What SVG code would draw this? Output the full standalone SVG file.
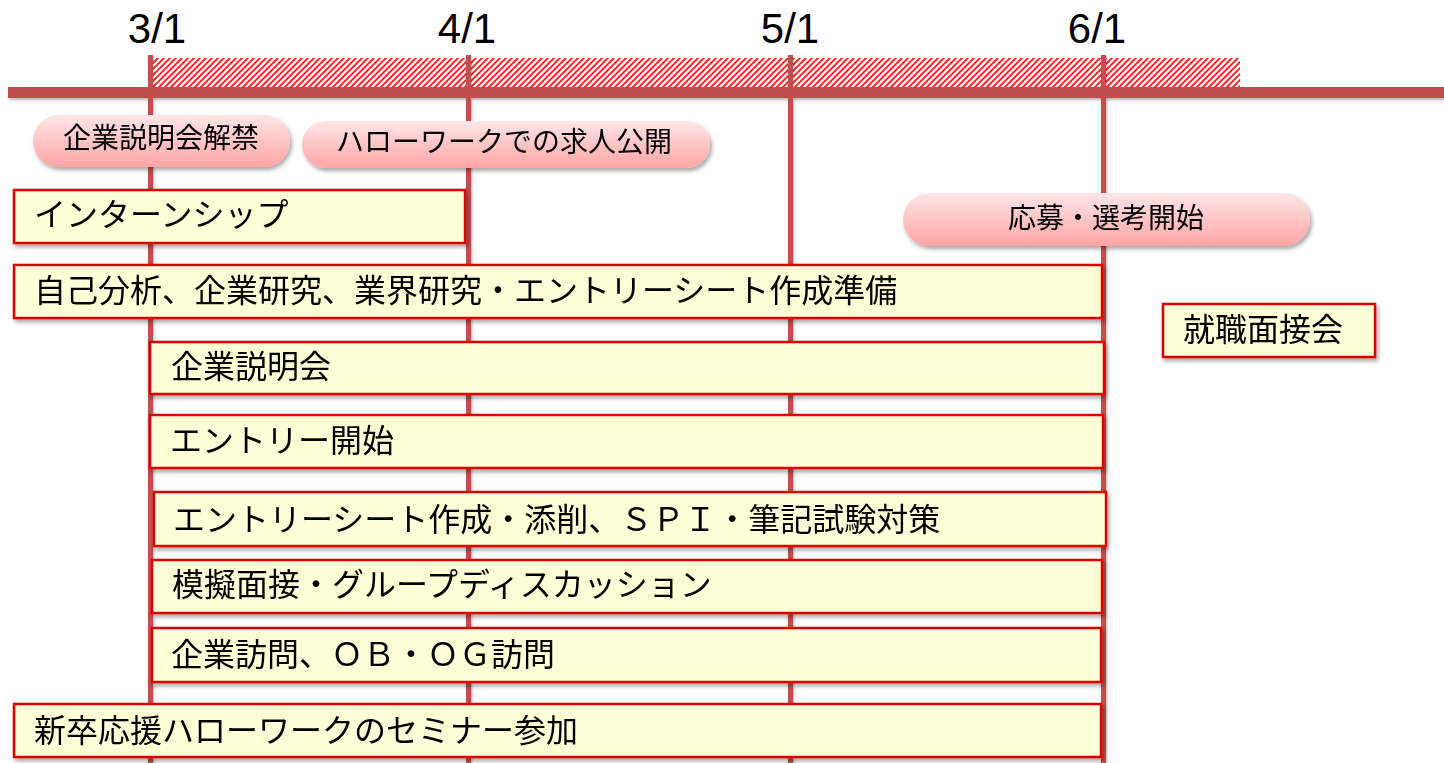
<svg xmlns="http://www.w3.org/2000/svg" width="1444" height="763" viewBox="0 0 1444 763">
<defs>
<pattern id="hatch" patternUnits="userSpaceOnUse" width="6" height="6">
<rect width="6" height="6" fill="#ffffff"/>
<path d="M-1,7 L7,-1 M-4,4 L4,-4 M2,10 L10,2" stroke="#FF1A1A" stroke-width="1.8"/>
</pattern>
<linearGradient id="pill" x1="0" y1="0" x2="0" y2="1">
<stop offset="0" stop-color="#FFE6E6"/>
<stop offset="1" stop-color="#FFA4A4"/>
</linearGradient>
<filter id="sh" x="-5%" y="-20%" width="110%" height="150%">
<feDropShadow dx="2" dy="3" stdDeviation="2" flood-color="#000" flood-opacity="0.35"/>
</filter>
<filter id="shl" x="-5%" y="-5%" width="110%" height="110%">
<feDropShadow dx="1" dy="2" stdDeviation="1.5" flood-color="#000" flood-opacity="0.3"/>
</filter>
</defs>
<style>
.date{font-family:"Liberation Sans",Arial,sans-serif;font-size:42px;fill:#000;text-anchor:middle}
.bar{fill:#C0504D}
.box{fill:#FFFFD7;stroke:#DD0000;stroke-width:2.5}
.pill{fill:url(#pill)}
.t{font-family:"Noto Sans CJK JP","Noto Sans",sans-serif;font-size:32px;fill:#000;dominant-baseline:central}
.pt{font-family:"Noto Sans CJK JP","Noto Sans",sans-serif;font-size:28px;fill:#000;text-anchor:middle;dominant-baseline:central}
</style>
<rect width="1444" height="763" fill="#ffffff"/>
<g id="timeline">
<rect x="153" y="58" width="1087" height="29" fill="url(#hatch)"/>
<g filter="url(#shl)">
<rect class="bar" x="8" y="87" width="1436" height="11"/>
<rect class="bar" x="148" y="55" width="5" height="708"/>
<rect class="bar" x="466" y="55" width="5" height="708"/>
<rect class="bar" x="788" y="55" width="5" height="708"/>
<rect class="bar" x="1101" y="55" width="5" height="708"/>
</g>
<text class="date" x="157" y="43">3/1</text>
<text class="date" x="467" y="43">4/1</text>
<text class="date" x="790" y="43">5/1</text>
<text class="date" x="1097" y="43">6/1</text>
</g>
<g id="connectors"></g>
<g id="pill1" filter="url(#sh)">
<rect class="pill" x="33" y="115" width="257" height="52" rx="26"/>
<text class="pt" x="161" y="136">企業説明会解禁</text>
</g>
<g id="pill2" filter="url(#sh)">
<rect class="pill" x="302" y="121" width="408" height="47" rx="23.5"/>
<text class="pt" x="504" y="140">ハローワークでの求人公開</text>
</g>
<g id="pill3" filter="url(#sh)">
<rect class="pill" x="903" y="193" width="407" height="53" rx="26.5"/>
<text class="pt" x="1106" y="216">応募・選考開始</text>
</g>
<g id="box1" filter="url(#sh)">
<rect class="box" x="14" y="190" width="451" height="53"/>
<text class="t" x="34" y="212">インターンシップ</text>
</g>
<g id="box2" filter="url(#sh)">
<rect class="box" x="14" y="265" width="1088" height="53"/>
<text class="t" x="34" y="287.5">自己分析、企業研究、業界研究・エントリーシート作成準備</text>
</g>
<g id="box3" filter="url(#sh)">
<rect class="box" x="1163" y="304" width="212" height="53"/>
<text class="t" x="1183" y="326.5">就職面接会</text>
</g>
<g id="box4" filter="url(#sh)">
<rect class="box" x="150" y="342" width="954" height="52"/>
<text class="t" x="171" y="364">企業説明会</text>
</g>
<g id="box5" filter="url(#sh)">
<rect class="box" x="150" y="415" width="953" height="53"/>
<text class="t" x="170" y="437.5">エントリー開始</text>
</g>
<g id="box6" filter="url(#sh)">
<rect class="box" x="154" y="492" width="952" height="54"/>
<text class="t" x="173" y="516.5">エントリーシート作成・添削、ＳＰＩ・筆記試験対策</text>
</g>
<g id="box7" filter="url(#sh)">
<rect class="box" x="152" y="560" width="950" height="53"/>
<text class="t" x="172" y="581.5">模擬面接・グループディスカッション</text>
</g>
<g id="box8" filter="url(#sh)">
<rect class="box" x="152" y="628" width="949" height="54"/>
<text class="t" x="171" y="651.5">企業訪問、ＯＢ・ＯＧ訪問</text>
</g>
<g id="box9" filter="url(#sh)">
<rect class="box" x="14" y="704" width="1087" height="53"/>
<text class="t" x="34" y="728">新卒応援ハローワークのセミナー参加</text>
</g>
</svg>
